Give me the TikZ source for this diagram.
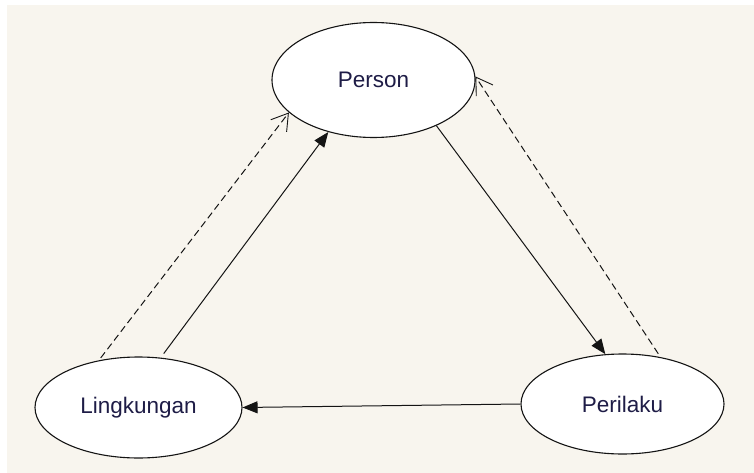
\documentclass[tikz,border=0pt]{standalone}
\usepackage{fontspec}
\setmainfont{Liberation Sans}
\usetikzlibrary{shapes.geometric,arrows.meta}
\definecolor{bgbeige}{RGB}{248,245,238}
\definecolor{labelcol}{RGB}{30,28,70}
\definecolor{inkcol}{RGB}{20,20,20}
\tikzset{
  ent/.style={ellipse, draw=inkcol, line width=1.1pt, fill=white, inner sep=0pt,
    font=\fontsize{22.5}{26}\selectfont, text=labelcol},
  solidarr/.style={draw=inkcol, line width=1pt, -{Triangle[length=15pt,width=12pt]}},
  dasharr/.style={draw=inkcol, line width=1pt, dash pattern=on 7pt off 4pt,
    -{Straight Barb[length=16pt,width=20pt,line width=0.9pt]}}
}
\begin{document}
\begin{tikzpicture}[x=1pt,y=-1pt]
\useasboundingbox (0,0) rectangle (754,473);
\fill[white] (0,0) rectangle (754,473);
\fill[bgbeige] (7,5) rectangle (754,473);
\node[ent, minimum width=203pt, minimum height=115pt] (P) at (373.5,80) {Person};
\node[ent, minimum width=207pt, minimum height=101pt] (L) at (138.5,407.5) {Lingkungan};
\node[ent, minimum width=203pt, minimum height=100pt] (R) at (622.5,404) {Perilaku};
\draw[solidarr, shorten <=5pt] (L.66) -- (P.229);
\draw[dasharr, shorten <=3pt] (L.130) -- (P.201);
\draw[solidarr] (P.324) -- (R.109);
\draw[dasharr, shorten <=4pt] (R.51) -- (P.2);
\draw[solidarr] (R.180) -- (L.0);
\end{tikzpicture}
\end{document}
